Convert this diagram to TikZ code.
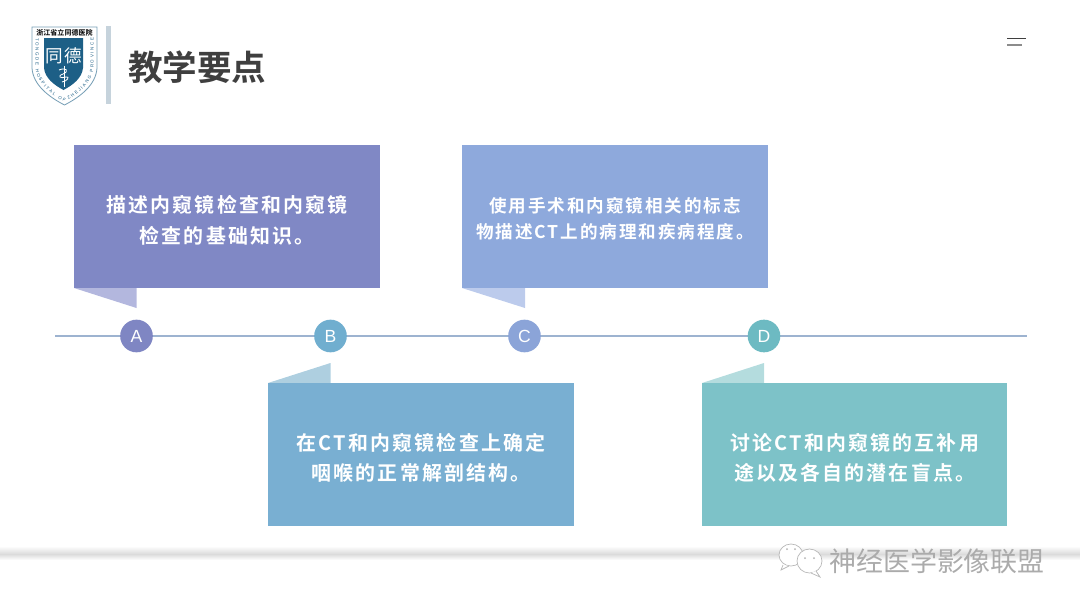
\documentclass[tikz,border=0pt]{standalone}
\usepackage{fontspec}
\setmainfont{Liberation Sans}
\newfontfamily\cjk{Noto Sans CJK SC}[BoldFont={* Bold}]
\newfontfamily\cjkwide{Noto Sans CJK SC}[LetterSpace=11, BoldFont={* Bold}]
\usetikzlibrary{positioning, calc, decorations.text}
\definecolor{boxA}{HTML}{8088C5}
\definecolor{boxB}{HTML}{79AFD2}
\definecolor{boxC}{HTML}{8EA9DC}
\definecolor{boxD}{HTML}{7DC2C8}
\definecolor{tabA}{HTML}{B3B7DE}
\definecolor{tabB}{HTML}{AECFE0}
\definecolor{tabC}{HTML}{BCCBEC}
\definecolor{tabD}{HTML}{B4DCDE}
\definecolor{dotA}{HTML}{7F86C3}
\definecolor{dotB}{HTML}{70AECF}
\definecolor{dotC}{HTML}{8BA4D8}
\definecolor{dotD}{HTML}{6DBAC2}
\definecolor{lineC}{HTML}{9DB3D0}
\definecolor{barC}{HTML}{C6D3DC}
\definecolor{inkC}{HTML}{3F3F3F}
\definecolor{shieldC}{HTML}{1D5F86}
\tikzset{
  x=0.03cm, y=-0.03cm,
  textbox/.style={minimum width=9.17cm, minimum height=4.29cm, inner sep=0pt, anchor=north west},
  boxtext/.style={inner sep=0pt, align=center, text=white, font=\cjkwide\bfseries\fontsize{17}{26}\selectfont},
  dot/.style={circle, minimum size=0.98cm, inner sep=0pt, text=white, font=\fontsize{15}{15}\selectfont},
  markbar/.style={line width=1.2pt, inkC},
  bubble/.style={black!28, fill=white, line width=0.6pt}
}
\begin{document}
\begin{tikzpicture}
\useasboundingbox (0,0) rectangle (1080,608);
% footer band
\shade[top color=white, bottom color=black!14] (0,546) rectangle (1080,554);
\shade[top color=black!14, bottom color=white] (0,554) rectangle (1080,560);

% logo
\draw[fill=white, draw=shieldC!60, line width=0.7pt] (32,27) -- (97,27) -- (97,68) .. controls (96,85) and (80,97) .. (64.5,105) .. controls (49,97) and (33,85) .. (32,68) -- cycle;
\fill[shieldC] (44,38) -- (83,38) -- (83,68) .. controls (82,78) and (73,85) .. (63.5,90) .. controls (54,85) and (45,78) .. (44,68) -- cycle;
\node[inner sep=0pt] (logotop) at (64.5,33) {\cjk\bfseries\fontsize{6}{6}\selectfont 浙江省立同德医院};
\node[inner sep=0pt] (logoL) at (54,56) {\cjk\fontsize{15}{15}\selectfont\color{white}同};
\node[inner sep=0pt] (logoR) at (73,56) {\cjk\fontsize{15}{15}\selectfont\color{white}德};
\draw[white, line width=0.8pt] (64,66) -- (64,87);
\draw[white, line width=0.7pt] (59,70) .. controls (66,67) and (70,71) .. (63,74) .. controls (57,76) and (60,79) .. (66,77) .. controls (70,76) and (68,81) .. (62,82);
\path[decorate, decoration={text along path, text align={fit to path},
  text={|\fontsize{3.8}{3.8}\selectfont\color{shieldC}|TONGDE HOSPITAL OF ZHEJIANG PROVINCE}}]
  (35.5,38) -- (35.5,68) .. controls (36.5,83) and (50,94) .. (64.5,102) .. controls (79,94) and (92.5,83) .. (93.5,68) -- (93.5,38);
\fill[barC] (105.5,26) rectangle (110.5,104);
\node[anchor=west, inner sep=0pt, text=inkC] (title) at (128,67) {\cjk\bfseries\fontsize{29.5}{29.5}\selectfont 教学要点};

% menu mark
\draw[markbar] (1007,38.5) -- (1026,38.5);
\draw[markbar, inkC!60] (1007,45) -- (1022,45);

% time line
\coordinate (lineL) at (55,335.5);
\coordinate (lineR) at (1027,335.5);
\draw[lineC, line width=1.7pt] (lineL) -- (lineR);

% tabs
\fill[tabA] (74,288) -- (136.5,288) -- (136.5,308) -- cycle;
\fill[tabC] (462,288) -- (525,288) -- (525,308) -- cycle;
\fill[tabB] (268,383) -- (330.5,383) -- (330.5,363) -- cycle;
\fill[tabD] (702,383) -- (764,383) -- (764,363) -- cycle;

% boxes
\node[textbox, fill=boxA] (boxa) at (74,145) {};
\node[textbox, fill=boxC] (boxc) at (462,145) {};
\node[textbox, fill=boxB] (boxb) at (268,383) {};
\node[textbox, fill=boxD, minimum width=9.15cm] (boxd) at (702,383) {};
\node[boxtext, font=\cjkwide\bfseries\fontsize{17}{26.5}\selectfont] (texta) at ($(boxa.center)+(0,4)$) {描述内窥镜检查和内窥镜\\检查的基础知识。};
\node[boxtext, font=\cjkwide\bfseries\fontsize{15}{22}\selectfont] (textc) at ($(boxc.center)+(0,2)$) {使用手术和内窥镜相关的标志\\物描述CT上的病理和疾病程度。};
\node[boxtext] (textb) at ($(boxb.center)+(0,3)$) {在CT和内窥镜检查上确定\\咽喉的正常解剖结构。};
\node[boxtext] (textd) at ($(boxd.center)+(0,3)$) {讨论CT和内窥镜的互补用\\途以及各自的潜在盲点。};

% dots
\node[dot, fill=dotA] (dota) at (136.5,336) {A};
\node[dot, fill=dotB] (dotb) at (330.5,336) {B};
\node[dot, fill=dotC] (dotc) at (524.5,336) {C};
\node[dot, fill=dotD] (dotd) at (764,336) {D};

% watermark
\draw[bubble] (791,555) ellipse (12 and 11);
\draw[bubble] (783,565) -- (781,570) -- (789,566);
\draw[bubble] (809.5,561) ellipse (12.5 and 12);
\draw[bubble] (816,571) -- (820,577) -- (811,573);
\fill[black!30] (787,549) circle (1) (795,549) circle (1) (805,558) circle (1) (814,558) circle (1);
\node[anchor=west, inner sep=0pt, text=black!33] (mark) at (829,561) {\cjk\fontsize{23}{23}\selectfont 神经医学影像联盟};
\end{tikzpicture}
\end{document}
